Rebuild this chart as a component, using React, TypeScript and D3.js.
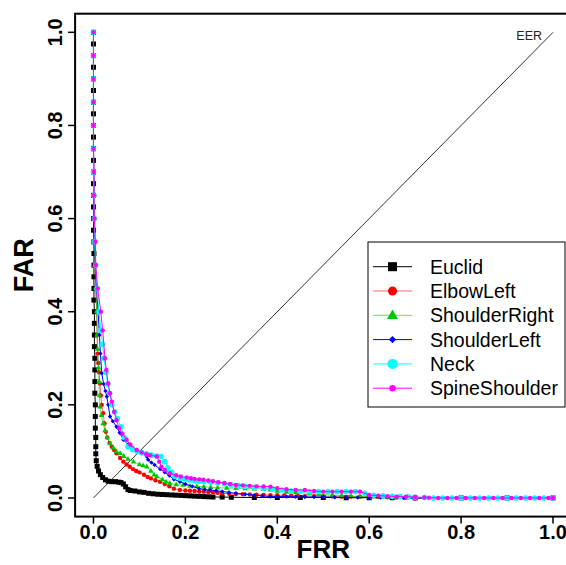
import React from 'react';
import * as d3 from 'd3';

type Pt = [number, number];

const W = 566;
const H = 565;

const xTicks = [0, 0.2, 0.4, 0.6, 0.8, 1.0];
const yTicks = [0, 0.2, 0.4, 0.6, 0.8, 1.0];
const xTitle = 'FRR';
const yTitle = 'FAR';
const diagLabel = 'EER';

const seriesNames = ['Euclid', 'ElbowLeft', 'ShoulderRight', 'ShoulderLeft', 'Neck', 'SpineShoulder'];
const seriesPointColors = ['#000000', '#ff0000', '#00c800', '#0000ff', '#00ffff', '#ff00ff'];
const seriesLineColors = ['#000000', 'rgba(255,0,0,0.6)', 'rgba(0,200,0,0.6)', '#0000ff', '#00ffff', '#ff00ff'];
const seriesShapes = ['square', 'circle', 'triangle', 'diamond', 'circle', 'circle'];
const seriesPlotSize = [5, 2.2, 5.5, 2.2, 2.8, 2.2];
const seriesLegendSize = [9, 4.5, 11, 3.6, 5, 3.2];

const euclid: Pt[] = [
  [0, 1], [0, 0.975], [0, 0.95], [0, 0.925], [0, 0.9], [0, 0.875], [0, 0.85], [0, 0.825], [0, 0.8], [0, 0.775],
  [0, 0.75], [0, 0.725], [0, 0.7], [0, 0.675], [0, 0.65], [0, 0.625], [0, 0.6], [0, 0.575], [0.001, 0.55],
  [0.001, 0.525], [0.001, 0.5], [0.001, 0.475], [0.001, 0.45], [0.001, 0.425], [0.002, 0.4], [0.002, 0.375],
  [0.002, 0.35], [0.002, 0.325], [0.003, 0.3], [0.003, 0.275], [0.003, 0.25], [0.003, 0.225], [0.004, 0.2],
  [0.004, 0.175], [0.004, 0.15], [0.005, 0.13], [0.005, 0.11], [0.005, 0.095], [0.006, 0.08], [0.008, 0.068],
  [0.011, 0.058], [0.015, 0.05], [0.02, 0.044], [0.026, 0.039], [0.032, 0.036], [0.04, 0.035], [0.048, 0.035],
  [0.055, 0.034], [0.06, 0.033], [0.065, 0.03], [0.07, 0.024], [0.075, 0.018], [0.08, 0.016], [0.09, 0.015],
  [0.1, 0.013], [0.11, 0.012], [0.12, 0.01], [0.13, 0.009], [0.14, 0.008], [0.15, 0.0075], [0.16, 0.007],
  [0.17, 0.0065], [0.18, 0.006], [0.19, 0.0055], [0.2, 0.005], [0.21, 0.0045], [0.22, 0.004], [0.23, 0.0035],
  [0.24, 0.003], [0.25, 0.0025], [0.26, 0.002], [0.28, 0.002], [0.3, 0.0015], [0.35, 0.001], [0.4, 0.001],
  [0.45, 0.001], [0.5, 0.001], [0.55, 0.0005], [0.6, 0.0005], [0.65, 0.0005], [0.7, 0], [0.8, 0], [0.9, 0], [1, 0],
];

const elbowLeft: Pt[] = [
  [0, 1], [0, 0.95], [0, 0.9], [0, 0.85], [0, 0.8], [0, 0.75], [0, 0.7], [0.001, 0.65], [0.001, 0.6],
  [0.002, 0.55], [0.003, 0.5], [0.005, 0.45], [0.007, 0.4], [0.008, 0.35], [0.009, 0.31], [0.0105, 0.29],
  [0.012, 0.27], [0.014, 0.246], [0.016, 0.22], [0.018, 0.2], [0.021, 0.182], [0.024, 0.16], [0.027, 0.142],
  [0.03, 0.13], [0.035, 0.118], [0.04, 0.11], [0.045, 0.103], [0.05, 0.096], [0.058, 0.086], [0.065, 0.078],
  [0.072, 0.072], [0.079, 0.067], [0.086, 0.062], [0.093, 0.058], [0.1, 0.055], [0.11, 0.05], [0.118, 0.045],
  [0.125, 0.042], [0.135, 0.038], [0.145, 0.035], [0.155, 0.03], [0.165, 0.025], [0.175, 0.02], [0.188, 0.017],
  [0.2, 0.016], [0.21, 0.0155], [0.22, 0.015], [0.23, 0.014], [0.24, 0.0136], [0.25, 0.013], [0.26, 0.012],
  [0.27, 0.011], [0.28, 0.01], [0.295, 0.009], [0.31, 0.0086], [0.325, 0.008], [0.34, 0.0075], [0.355, 0.007],
  [0.37, 0.0065], [0.385, 0.006], [0.4, 0.006], [0.415, 0.0055], [0.43, 0.005], [0.445, 0.0045], [0.46, 0.004],
  [0.48, 0.004], [0.5, 0.004], [0.52, 0.0035], [0.54, 0.003], [0.56, 0.003], [0.58, 0.003], [0.6, 0.0025],
  [0.62, 0.002], [0.64, 0.0015], [0.66, 0.001], [0.68, 0.0005], [0.7, 0], [0.8, 0], [0.9, 0], [1, 0],
];

const shoulderRight: Pt[] = [
  [0, 1], [0, 0.95], [0, 0.9], [0, 0.85], [0, 0.8], [0, 0.75], [0, 0.7], [0.001, 0.65], [0.001, 0.6],
  [0.002, 0.55], [0.003, 0.5], [0.005, 0.45], [0.007, 0.4], [0.008, 0.35], [0.009, 0.32], [0.011, 0.28],
  [0.012, 0.25], [0.013, 0.22], [0.014, 0.196], [0.017, 0.178], [0.021, 0.16], [0.025, 0.145], [0.03, 0.13],
  [0.036, 0.117], [0.043, 0.108], [0.05, 0.1], [0.058, 0.096], [0.066, 0.09], [0.075, 0.084], [0.087, 0.078],
  [0.1, 0.072], [0.108, 0.07], [0.116, 0.067], [0.125, 0.058], [0.132, 0.05], [0.138, 0.046], [0.15, 0.04],
  [0.158, 0.035], [0.166, 0.032], [0.18, 0.029], [0.195, 0.028], [0.21, 0.026], [0.225, 0.025], [0.24, 0.024],
  [0.255, 0.023], [0.27, 0.022], [0.29, 0.0215], [0.31, 0.021], [0.33, 0.0205], [0.35, 0.02], [0.37, 0.019],
  [0.385, 0.018], [0.4, 0.015], [0.42, 0.013], [0.44, 0.012], [0.47, 0.01], [0.49, 0.008], [0.52, 0.006],
  [0.54, 0.005], [0.56, 0.004], [0.58, 0.0035], [0.6, 0.003], [0.62, 0.0025], [0.64, 0.002], [0.66, 0.001],
  [0.68, 0], [0.8, 0], [0.9, 0], [1, 0],
];

const shoulderLeft: Pt[] = [
  [0, 1], [0, 0.95], [0, 0.9], [0, 0.85], [0, 0.8], [0, 0.75], [0.001, 0.7], [0.001, 0.65], [0.002, 0.6],
  [0.003, 0.55], [0.004, 0.5], [0.007, 0.45], [0.01, 0.4], [0.013, 0.35], [0.015, 0.31], [0.018, 0.268],
  [0.022, 0.245], [0.026, 0.23], [0.029, 0.218], [0.032, 0.2], [0.036, 0.175], [0.042, 0.165], [0.05, 0.153],
  [0.057, 0.14], [0.065, 0.125], [0.075, 0.115], [0.085, 0.108], [0.094, 0.103], [0.105, 0.096], [0.116, 0.089],
  [0.119, 0.082], [0.126, 0.076], [0.133, 0.071], [0.145, 0.062], [0.155, 0.055], [0.165, 0.048], [0.175, 0.04],
  [0.188, 0.035], [0.2, 0.03], [0.215, 0.025], [0.23, 0.02], [0.242, 0.018], [0.254, 0.017], [0.267, 0.0155],
  [0.28, 0.014], [0.295, 0.012], [0.31, 0.01], [0.33, 0.008], [0.35, 0.006], [0.367, 0.0045], [0.385, 0.003],
  [0.4, 0.003], [0.42, 0.003], [0.44, 0.0025], [0.46, 0.002], [0.48, 0.002], [0.5, 0.002], [0.525, 0.0015],
  [0.55, 0.001], [0.575, 0.001], [0.6, 0.001], [0.625, 0.0007], [0.65, 0.0005], [0.675, 0.0003], [0.7, 0],
  [0.8, 0], [0.9, 0], [1, 0],
];

const neck: Pt[] = [
  [0, 1], [0, 0.95], [0, 0.9], [0, 0.85], [0, 0.8], [0, 0.75], [0, 0.7], [0.001, 0.65], [0.002, 0.6],
  [0.003, 0.55], [0.005, 0.5], [0.008, 0.45], [0.012, 0.4], [0.016, 0.36], [0.02, 0.33], [0.023, 0.3],
  [0.027, 0.27], [0.031, 0.245], [0.035, 0.225], [0.04, 0.2], [0.046, 0.185], [0.052, 0.17], [0.06, 0.153],
  [0.067, 0.13], [0.075, 0.11], [0.085, 0.104], [0.095, 0.1], [0.105, 0.097], [0.115, 0.095], [0.126, 0.092],
  [0.137, 0.09], [0.147, 0.089], [0.155, 0.078], [0.162, 0.064], [0.17, 0.055], [0.177, 0.046], [0.19, 0.042],
  [0.2, 0.04], [0.21, 0.0385], [0.22, 0.037], [0.23, 0.036], [0.24, 0.035], [0.255, 0.0335], [0.27, 0.032],
  [0.285, 0.03], [0.3, 0.028], [0.315, 0.0265], [0.33, 0.025], [0.35, 0.023], [0.37, 0.021], [0.39, 0.019],
  [0.41, 0.017], [0.43, 0.015], [0.45, 0.0136], [0.47, 0.0136], [0.49, 0.0136], [0.51, 0.0136], [0.53, 0.0136],
  [0.55, 0.0136], [0.57, 0.0136], [0.59, 0.01], [0.61, 0.006], [0.63, 0.0045], [0.65, 0.0035], [0.667, 0.003],
  [0.685, 0.0025], [0.7, 0.002], [0.72, 0.001], [0.74, 0], [0.76, 0], [0.78, 0], [0.8, 0], [0.82, 0], [0.84, 0],
  [0.86, 0], [0.88, 0], [0.9, 0], [0.92, 0], [0.94, 0], [0.96, 0], [0.98, 0], [1, 0],
];

const spineShoulder: Pt[] = [
  [0, 1], [0, 0.95], [0, 0.9], [0, 0.85], [0, 0.8], [0, 0.75], [0.001, 0.7], [0.001, 0.65], [0.002, 0.6],
  [0.004, 0.55], [0.005, 0.5], [0.009, 0.45], [0.016, 0.4], [0.02, 0.36], [0.025, 0.3], [0.028, 0.275],
  [0.032, 0.246], [0.036, 0.225], [0.04, 0.207], [0.045, 0.185], [0.05, 0.167], [0.056, 0.15], [0.063, 0.138],
  [0.072, 0.125], [0.08, 0.115], [0.094, 0.103], [0.105, 0.098], [0.115, 0.094], [0.123, 0.092], [0.138, 0.089],
  [0.143, 0.078], [0.148, 0.067], [0.155, 0.06], [0.166, 0.053], [0.18, 0.049], [0.19, 0.046], [0.203, 0.044],
  [0.212, 0.0425], [0.22, 0.041], [0.23, 0.04], [0.239, 0.039], [0.25, 0.0375], [0.26, 0.036], [0.272, 0.034],
  [0.285, 0.032], [0.297, 0.03], [0.31, 0.028], [0.325, 0.027], [0.34, 0.026], [0.355, 0.025], [0.37, 0.0245],
  [0.385, 0.024], [0.4, 0.021], [0.42, 0.019], [0.44, 0.017], [0.46, 0.017], [0.48, 0.015], [0.5, 0.0136],
  [0.52, 0.0136], [0.54, 0.0136], [0.56, 0.0136], [0.58, 0.0136], [0.6, 0.0064], [0.62, 0.005], [0.64, 0.004],
  [0.66, 0.003], [0.68, 0.003], [0.7, 0.002], [0.72, 0.001], [0.73, 0.0005], [0.75, 0], [0.77, 0], [0.79, 0],
  [0.81, 0], [0.83, 0], [0.85, 0], [0.87, 0], [0.89, 0], [0.91, 0], [0.93, 0], [0.95, 0], [0.97, 0], [0.99, 0],
  [1, 0],
];

const seriesData: Pt[][] = [euclid, elbowLeft, shoulderRight, shoulderLeft, neck, spineShoulder];

const FONT = '"Liberation Sans", Arial, Helvetica, sans-serif';

function Marker({ shape, cx, cy, s, fill }: { shape: string; cx: number; cy: number; s: number; fill: string }) {
  if (shape === 'square') {
    return <rect x={cx - s / 2} y={cy - s / 2} width={s} height={s} fill={fill} />;
  }
  if (shape === 'triangle') {
    const h = s * 0.866;
    const d = `M${cx},${cy - h * 0.62} L${cx + s / 2},${cy + h * 0.38} L${cx - s / 2},${cy + h * 0.38} Z`;
    return <path d={d} fill={fill} />;
  }
  if (shape === 'diamond') {
    const d = `M${cx},${cy - s} L${cx + s},${cy} L${cx},${cy + s} L${cx - s},${cy} Z`;
    return <path d={d} fill={fill} />;
  }
  return <circle cx={cx} cy={cy} r={s} fill={fill} />;
}

export default function App() {
  const x = d3.scaleLinear().domain([-0.04, 1.04]).range([75.1, 571.4]);
  const y = d3.scaleLinear().domain([-0.04, 1.04]).range([516.6, 13.7]);
  const line = d3
    .line<Pt>()
    .x((d) => x(d[0]))
    .y((d) => y(d[1]));

  const boxL = x(-0.04);
  const boxR = x(1.04);
  const boxT = y(1.04);
  const boxB = y(-0.04);

  const legX = 368;
  const legY = 242;
  const legW = 197;
  const legH = 165;
  const rowY0 = 266.7;
  const rowStep = 24.3;

  return (
    <svg
      width={W}
      height={H}
      style={{ position: 'absolute', left: 0, top: 0, background: '#fff' }}
      fontFamily={FONT}
    >
      <rect x={0} y={0} width={W} height={H} fill="#fff" />
      {/* diagonal */}
      <line x1={x(0)} y1={y(0)} x2={x(1)} y2={y(1)} stroke="#333" strokeWidth={1} />
      <text x={542} y={39.5} fontSize={12.5} textAnchor="end" fill="#222">
        {diagLabel}
      </text>

      {/* series */}
      {seriesData.map((data, i) => (
        <g key={seriesNames[i]}>
          <path d={line(data) || ''} fill="none" stroke={seriesLineColors[i]} strokeWidth={1} />
          {data.map((d, j) => (
            <Marker
              key={j}
              shape={seriesShapes[i]}
              cx={x(d[0])}
              cy={y(d[1])}
              s={seriesPlotSize[i]}
              fill={seriesPointColors[i]}
            />
          ))}
        </g>
      ))}

      {/* box */}
      <rect x={boxL} y={boxT} width={boxR - boxL} height={boxB - boxT} fill="none" stroke="#000" strokeWidth={2} />

      {/* x axis ticks */}
      {xTicks.map((t) => (
        <g key={'x' + t}>
          <line x1={x(t)} x2={x(t)} y1={boxB} y2={boxB + 7} stroke="#000" strokeWidth={1.5} />
          <text x={x(t)} y={539} fontSize={20} fontWeight="bold" textAnchor="middle" fill="#000">
            {t.toFixed(1)}
          </text>
        </g>
      ))}
      {/* y axis ticks */}
      {yTicks.map((t) => (
        <g key={'y' + t}>
          <line x1={boxL - 7} x2={boxL} y1={y(t)} y2={y(t)} stroke="#000" strokeWidth={1.5} />
          <text
            transform={`translate(62,${y(t)}) rotate(-90)`}
            fontSize={20}
            fontWeight="bold"
            textAnchor="middle"
            fill="#000"
          >
            {t.toFixed(1)}
          </text>
        </g>
      ))}

      {/* axis titles */}
      <text x={x(0.5)} y={558} fontSize={26} fontWeight="bold" textAnchor="middle" fill="#000">
        {xTitle}
      </text>
      <text
        transform={`translate(33,${y(0.5)}) rotate(-90)`}
        fontSize={27}
        fontWeight="bold"
        textAnchor="middle"
        fill="#000"
      >
        {yTitle}
      </text>

      {/* legend */}
      <rect x={legX} y={legY} width={legW} height={legH} fill="#fff" stroke="#000" strokeWidth={1} />
      {seriesNames.map((name, i) => {
        const cy = rowY0 + i * rowStep;
        return (
          <g key={'leg' + name}>
            <line x1={373} x2={412} y1={cy} y2={cy} stroke={seriesLineColors[i]} strokeWidth={1} />
            <Marker shape={seriesShapes[i]} cx={392.5} cy={cy} s={seriesLegendSize[i]} fill={seriesPointColors[i]} />
            <text x={430} y={cy + 7} fontSize={19.5} fill="#000">
              {name}
            </text>
          </g>
        );
      })}
    </svg>
  );
}
